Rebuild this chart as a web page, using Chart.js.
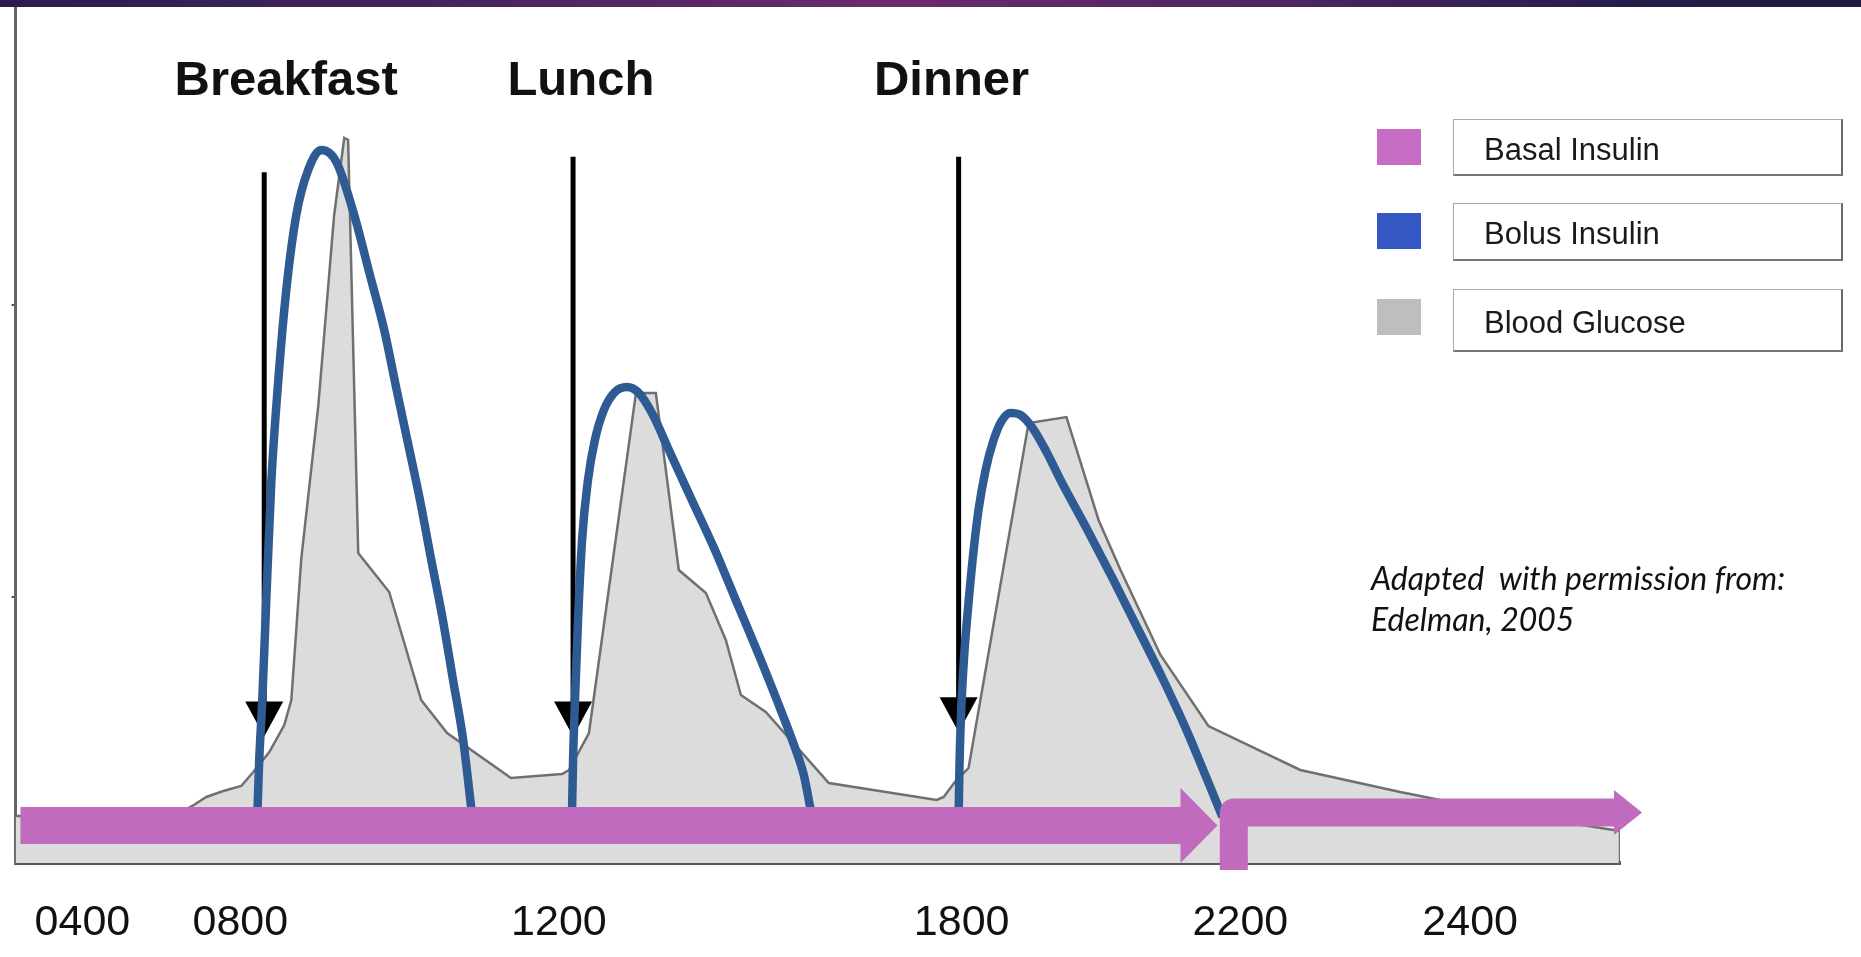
<!DOCTYPE html>
<html>
<head>
<meta charset="utf-8">
<title>Basal / bolus insulin and blood glucose</title>
<script src="https://cdn.jsdelivr.net/npm/chart.js@4.4.1/dist/chart.umd.min.js"></script>
<style>
  html, body { margin: 0; padding: 0; background: #fff; }
  body { width: 1861px; height: 957px; position: relative; overflow: hidden; font-family: "Liberation Sans", Arial, sans-serif; }
  #band { position: absolute; left: 0; top: 0; width: 1861px; height: 7px; z-index: 2;
    background: linear-gradient(90deg, #2a1d4c 0%, #47245f 25%, #6b2a6b 48%, #4b2560 70%, #251c48 88%, #1e1b44 100%); }
  #chart { position: absolute; left: 0; top: 0; }
  .legend-row { position: absolute; left: 1377px; width: 466px; }
  .swatch { position: absolute; left: 0; top: 10px; width: 44px; height: 36px; }
  .legend-box { position: absolute; left: 76px; right: 0; top: 0; bottom: 0; box-sizing: border-box;
    border: 1px solid #a8a8a8; border-right: 2px solid #6a6a6a; border-bottom: 2px solid #777;
    padding: 5px 0 0 30px; display: flex; align-items: center;
    font-size: 31px; color: #1a1a1a; }
  #note { position: absolute; left: 1371px; top: 557px; font: italic 32px/41px Lato, "Open Sans", sans-serif; color: #111; white-space: pre; }
</style>
</head>
<body>
<div id="band"></div>
<canvas id="chart" width="1861" height="957"></canvas>
<div id="legend"></div>
<div id="note">Adapted  with permission from:
Edelman, 2005</div>
<script>
// ---- axis ticks (x is a schematic day timeline 0-100, y a relative level 0-100) ----
const timeTicks = [4.17, 14.01, 33.87, 58.97, 76.34, 90.66];
const timeTickLabels = ['0400', '0800', '1200', '1800', '2200', '2400'];
const levelTicks = [31.1, 65.3];

// ---- meals ----
const mealNames = ['Breakfast', 'Lunch', 'Dinner'];
const mealTime = [15.50, 34.75, 58.78];
const mealLabelTime = [16.87, 35.24, 58.34];
const mealArrowTop = [80.8, 82.6, 82.6];
const mealArrowTip = [14.8, 14.8, 15.3];

// ---- basal insulin (two segments) ----
const basalDayTime = [0.31, 72.67];
const basalDayLevel = [4.39, 4.39];
const basalNightTime = [75.93, 75.93, 99.69];
const basalNightLevel = [-0.82, 5.91, 5.91];

// ---- bolus insulin, one curve per meal ----
const bolusBreakfastTime = [15.07, 15.19, 15.38, 15.63, 15.94, 16.38, 16.87, 17.50, 18.24, 19.05, 19.99, 21.11, 22.04, 22.98, 23.72, 24.47, 25.22, 25.90, 26.59, 27.27, 27.90, 28.46];
const bolusBreakfastLevel = [5.5, 12.05, 19.06, 30.76, 44.44, 56.49, 66.90, 75.79, 81.05, 83.39, 82.02, 75.79, 69.12, 62.34, 55.67, 49.01, 42.34, 35.56, 28.89, 21.40, 14.39, 5.5];
const bolusLunchTime = [34.68, 34.75, 34.87, 35.06, 35.31, 35.68, 36.11, 36.67, 37.36, 38.11, 38.85, 39.73, 40.72, 42.15, 43.59, 44.89, 46.20, 47.45, 48.63, 49.13, 49.63];
const bolusLunchLevel = [5.5, 12.05, 19.06, 28.42, 37.78, 44.80, 49.47, 52.98, 55.09, 55.67, 54.97, 52.40, 48.30, 42.46, 36.61, 30.76, 24.91, 19.06, 13.22, 10.29, 5.5];
const bolusDinnerTime = [58.78, 58.84, 58.97, 59.15, 59.34, 59.65, 60.02, 60.46, 60.96, 61.46, 62.02, 62.64, 63.39, 64.26, 65.13, 66.81, 68.43, 69.99, 71.54, 72.98, 74.28, 75.22];
const bolusDinnerLevel = [5.5, 12.05, 19.06, 24.91, 29.24, 35.44, 41.29, 45.96, 49.47, 51.70, 52.63, 52.40, 50.88, 48.07, 44.80, 38.95, 33.10, 27.25, 21.40, 15.56, 9.71, 5.38];

// ---- blood glucose outline ----
const glucoseTime = [0, 9.09, 10.21, 11.02, 11.89, 12.95, 14.07, 14.82, 15.82, 16.75, 17.19, 17.81, 18.87, 19.86, 20.49, 20.73, 21.36, 23.29, 25.28, 26.90, 30.88, 34.06, 34.50, 35.74, 38.67, 39.91, 41.34, 43.03, 44.27, 45.21, 46.76, 50.69, 57.41, 57.85, 58.59, 59.40, 63.14, 65.50, 67.50, 68.87, 71.36, 74.35, 80.07, 86.30, 92.53, 100, 100];
const glucoseLevel = [5.5, 5.5, 5.85, 6.67, 7.72, 8.42, 9.01, 10.64, 12.98, 16.14, 19.06, 35.56, 53.45, 75.79, 84.80, 84.56, 36.26, 31.70, 19.06, 15.20, 9.94, 10.41, 10.88, 15.20, 54.97, 54.97, 34.27, 31.58, 26.08, 19.65, 17.66, 9.36, 7.37, 7.72, 9.59, 11.11, 51.46, 52.16, 40.12, 34.27, 24.33, 16.02, 10.88, 8.30, 5.96, 3.74, 0];

// ---- legend ----
const legendLabels = ['Basal Insulin', 'Bolus Insulin', 'Blood Glucose'];
const legendSwatch = ['#c66cc4', '#3557c3', '#bebebe'];

const pts = (xs, ys) => xs.map((x, i) => ({ x: x, y: ys[i] }));

const basalColor = '#c16bbe';
const bolusColor = '#2f5b94';
const sansFont = '"Liberation Sans", Arial, sans-serif';

const bolusStyle = {
    label: 'Bolus Insulin',
    borderColor: bolusColor,
    borderWidth: 8.5,
    cubicInterpolationMode: 'monotone',
    pointRadius: 0,
    fill: false,
    order: 2
};

const datasets = [
    { label: 'Basal Insulin', data: pts(basalDayTime, basalDayLevel), borderColor: basalColor, borderWidth: 37,
      borderCapStyle: 'butt', pointRadius: 0, fill: false, clip: false, order: 1, arrowHead: { length: 36, half: 37.5 } },
    { label: 'Basal Insulin', data: pts(basalNightTime, basalNightLevel), borderColor: basalColor, borderWidth: 28,
      borderCapStyle: 'butt', borderJoinStyle: 'round', pointRadius: 0, fill: false, clip: false, order: 1, arrowHead: { length: 27, half: 22.5 } },
    Object.assign({ data: pts(bolusBreakfastTime, bolusBreakfastLevel) }, bolusStyle),
    Object.assign({ data: pts(bolusLunchTime, bolusLunchLevel) }, bolusStyle),
    Object.assign({ data: pts(bolusDinnerTime, bolusDinnerLevel) }, bolusStyle),
    { label: 'Blood Glucose', data: pts(glucoseTime, glucoseLevel), borderColor: '#707070', borderWidth: 2.5,
      backgroundColor: '#dcdcdc', fill: 'origin', tension: 0, pointRadius: 0, order: 3 }
];
const glucoseIndex = datasets.length - 1;

// arrow heads at the end of the basal bars
const arrowHeads = {
    id: 'arrowHeads',
    afterDatasetsDraw(chart) {
        const ctx = chart.ctx;
        chart.data.datasets.forEach((ds, i) => {
            if (!ds.arrowHead) return;
            const el = chart.getDatasetMeta(i).data;
            const a = el[el.length - 2], b = el[el.length - 1];
            ctx.save();
            ctx.translate(b.x, b.y);
            ctx.rotate(Math.atan2(b.y - a.y, b.x - a.x));
            ctx.beginPath();
            ctx.moveTo(-1, -ds.arrowHead.half);
            ctx.lineTo(ds.arrowHead.length, 0);
            ctx.lineTo(-1, ds.arrowHead.half);
            ctx.closePath();
            ctx.fillStyle = ds.borderColor;
            ctx.fill();
            ctx.restore();
        });
    }
};

// meal arrows sit on top of the glucose area but under the bolus curves
const mealMarkers = {
    id: 'mealMarkers',
    afterDatasetDraw(chart, args) {
        if (args.index !== glucoseIndex) return;
        const ctx = chart.ctx, xs = chart.scales.x, ys = chart.scales.y;
        ctx.save();
        ctx.strokeStyle = '#000';
        ctx.fillStyle = '#000';
        ctx.lineWidth = 5;
        mealTime.forEach((t, i) => {
            const x = xs.getPixelForValue(t);
            const top = ys.getPixelForValue(mealArrowTop[i]);
            const tip = ys.getPixelForValue(mealArrowTip[i]);
            ctx.beginPath();
            ctx.moveTo(x, top);
            ctx.lineTo(x, tip - 30);
            ctx.stroke();
            ctx.beginPath();
            ctx.moveTo(x - 19, tip - 35);
            ctx.lineTo(x + 19, tip - 35);
            ctx.lineTo(x, tip);
            ctx.closePath();
            ctx.fill();
        });
        ctx.restore();
    },
    afterDraw(chart) {
        const ctx = chart.ctx, xs = chart.scales.x;
        ctx.save();
        ctx.font = 'bold 49px ' + sansFont;
        ctx.fillStyle = '#111';
        ctx.textAlign = 'center';
        ctx.textBaseline = 'alphabetic';
        mealNames.forEach((name, i) => {
            ctx.fillText(name, xs.getPixelForValue(mealLabelTime[i]), chart.chartArea.top + 87);
        });
        ctx.restore();
    }
};

new Chart(document.getElementById('chart').getContext('2d'), {
    type: 'line',
    data: { datasets: datasets },
    options: {
        responsive: false,
        animation: false,
        events: [],
        layout: { padding: { left: 0, top: 8, right: 241, bottom: 0 } },
        plugins: { legend: { display: false }, tooltip: { enabled: false } },
        scales: {
            x: {
                type: 'linear', min: 0, max: 100,
                afterBuildTicks: (s) => { s.ticks = timeTicks.map(v => ({ value: v })); },
                afterFit: (s) => { s.height = 94; },
                grid: { display: false, drawTicks: false },
                border: { display: true, color: '#595959', width: 4 },
                ticks: {
                    autoSkip: false, maxRotation: 0, padding: 34, color: '#111',
                    font: { family: sansFont, size: 43 },
                    callback: (v, i) => timeTickLabels[i]
                }
            },
            y: {
                type: 'linear', min: 0, max: 100,
                afterBuildTicks: (s) => { s.ticks = levelTicks.map(v => ({ value: v })); },
                afterFit: (s) => { s.width = 14; },
                grid: { display: true, drawOnChartArea: false, drawTicks: true, tickLength: 4, color: '#555', lineWidth: 2 },
                border: { display: true, color: '#666', width: 3 },
                ticks: { display: false }
            }
        }
    },
    plugins: [mealMarkers, arrowHeads]
});

// HTML legend: colour swatch beside a framed label
const legendTop = [119, 203, 289];
const legendHeight = [57, 58, 63];
const legendEl = document.getElementById('legend');
legendLabels.forEach((name, i) => {
    const row = document.createElement('div');
    row.className = 'legend-row';
    row.style.top = legendTop[i] + 'px';
    row.style.height = legendHeight[i] + 'px';
    const sw = document.createElement('span');
    sw.className = 'swatch';
    sw.style.background = legendSwatch[i];
    const box = document.createElement('span');
    box.className = 'legend-box';
    box.textContent = name;
    row.appendChild(sw);
    row.appendChild(box);
    legendEl.appendChild(row);
});
</script>
</body>
</html>
